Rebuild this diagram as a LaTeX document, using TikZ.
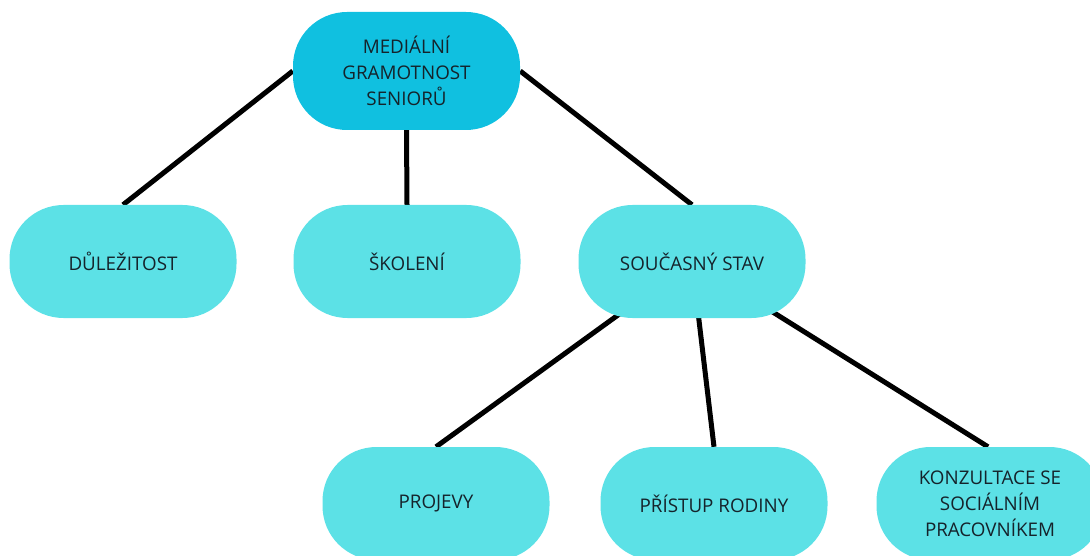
\documentclass[tikz,border=0pt]{standalone}
\usepackage{fontspec}
\setmainfont{Open Sans}
\usetikzlibrary{backgrounds}
\definecolor{topc}{HTML}{10C0E0}
\definecolor{boxc}{HTML}{5CE1E6}
\definecolor{txt}{HTML}{15232B}
\tikzset{
  pill/.style={fill=boxc, rounded corners=54pt, minimum width=227pt, minimum height=113pt,
    inner sep=0pt, align=center, text=txt, font=\fontsize{18.8}{26}\selectfont},
  toppill/.style={pill, fill=topc, minimum height=118pt},
  link/.style={line width=5pt, black}
}
\begin{document}
\begin{tikzpicture}[x=1pt,y=-1pt]
\useasboundingbox (0,0) rectangle (1090,556);
\clip (0,0) rectangle (1090,556);
\node[toppill] (top) at (406.5,71) {MEDIÁLNÍ\\GRAMOTNOST\\SENIORŮ};
\node[pill] (dul) at (123,261.5) {DŮLEŽITOST};
\node[pill] (sko) at (407,261.5) {ŠKOLENÍ};
\node[pill] (sv) at (692,261.5) {SOUČASNÝ STAV};
\node[pill] (proj) at (436,503.5) {PROJEVY};
\node[pill] (pri) at (714,503.5) {PŘÍSTUP RODINY};
\node[pill] (kon) at (990,503.5) {KONZULTACE SE\\SOCIÁLNÍM\\PRACOVNÍKEM};
\begin{pgfonlayer}{background}
\draw[link] (top.west) -- (dul.north);
\draw[link] (top.south) -- (sko.north);
\draw[link] (top.east) -- (sv.north);
\draw[link] (sv.center) -- (proj.north);
\draw[link] (sv.center) -- (pri.north);
\draw[link] (sv.center) -- ([xshift=-2pt]kon.north);
\end{pgfonlayer}
\end{tikzpicture}
\end{document}
